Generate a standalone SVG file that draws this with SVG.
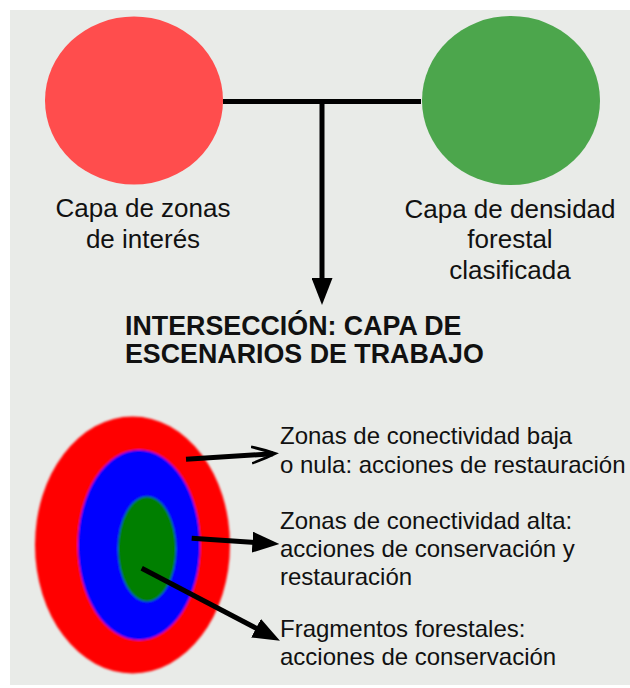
<svg xmlns="http://www.w3.org/2000/svg" width="630" height="688" viewBox="0 0 630 688">
<defs>
<style>
.lbl{font-family:"Liberation Sans",Arial,sans-serif;fill:#111;}
.top{font-size:26px;text-anchor:middle;}
.ttl{font-size:26.8px;font-weight:bold;}
.bot{font-size:24px;}
.con{stroke:#000;stroke-width:5;fill:none;}
</style>
<marker id="tri" markerUnits="userSpaceOnUse" viewBox="0 0 27 21" markerWidth="27" markerHeight="21" refX="3" refY="10.5" orient="auto">
<path d="M0,0 L27,10.5 L0,21 Z" fill="#000"/>
</marker>
<marker id="barb" markerUnits="userSpaceOnUse" viewBox="0 0 28 20" markerWidth="28" markerHeight="20" refX="22" refY="10" orient="auto">
<path d="M28,10 Q14,4 1,0.5 L0,2.8 Q12,7 21,10 Q12,13 0,17.2 L1,19.5 Q14,16 28,10 Z" fill="#000"/>
</marker>
<filter id="soft" x="-10%" y="-10%" width="120%" height="120%">
<feGaussianBlur stdDeviation="0.9"/>
</filter>
</defs>
<rect x="0" y="0" width="630" height="688" fill="#ffffff"/>
<rect x="10" y="10" width="620" height="675" fill="#e9ebe8"/>

<g id="capa-zonas">
<ellipse cx="134" cy="100.5" rx="89" ry="84" fill="#ff4d4d"/>
<text class="lbl top" x="143" y="217">Capa de zonas</text>
<text class="lbl top" x="143" y="248">de interés</text>
</g>

<g id="capa-densidad">
<ellipse cx="511" cy="100.5" rx="89" ry="84.5" fill="#4ca64c"/>
<text class="lbl top" x="510" y="218">Capa de densidad</text>
<text class="lbl top" x="510" y="248">forestal</text>
<text class="lbl top" x="510" y="279">clasificada</text>
</g>

<g id="interseccion">
<text class="lbl ttl" x="125" y="335">INTERSECCIÓN: CAPA DE</text>
<text class="lbl ttl" x="125" y="363">ESCENARIOS DE TRABAJO</text>
</g>

<g id="escenarios" filter="url(#soft)">
<ellipse cx="132.5" cy="545" rx="97.5" ry="128.5" fill="#ff0000"/>
<ellipse cx="139" cy="545" rx="61" ry="95" fill="#0000ff"/>
<ellipse cx="147" cy="549" rx="29" ry="52.5" fill="#007f00"/>
</g>

<g id="label-baja">
<text class="lbl bot" x="280" y="444">Zonas de conectividad baja</text>
<text class="lbl bot" x="280" y="472.5">o nula: acciones de restauración</text>
</g>
<g id="label-alta">
<text class="lbl bot" x="280" y="528.5">Zonas de conectividad alta:</text>
<text class="lbl bot" x="280" y="557">acciones de conservación y</text>
<text class="lbl bot" x="280" y="585">restauración</text>
</g>
<g id="label-fragmentos">
<text class="lbl bot" x="280" y="637">Fragmentos forestales:</text>
<text class="lbl bot" x="280" y="665">acciones de conservación</text>
</g>

<g id="connectors">
<path class="con" d="M223,101.5 L421,101.5"/>
<path class="con" d="M322,101.5 L322,281" marker-end="url(#tri)"/>
<path class="con" d="M186,459.3 L273,453.7" marker-end="url(#barb)"/>
<path class="con" d="M191.7,538.3 L255.4,542.4" marker-end="url(#tri)"/>
<path class="con" d="M141.7,568.3 L258.7,629.6" marker-end="url(#tri)"/>
</g>
</svg>
